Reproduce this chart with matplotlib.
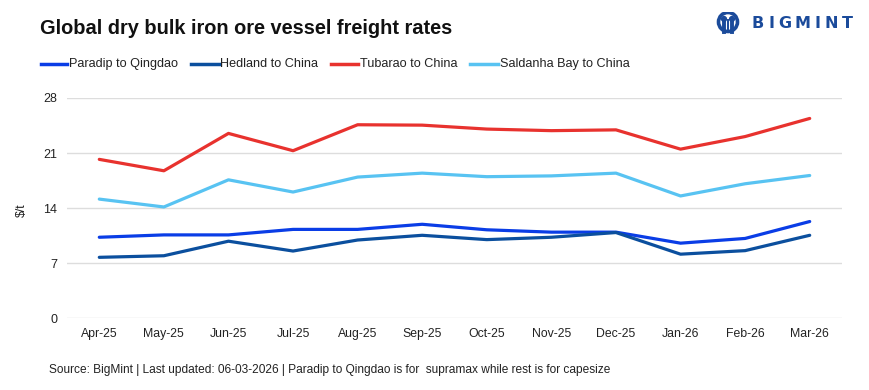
import matplotlib
matplotlib.use("Agg")
import matplotlib.pyplot as plt
from matplotlib.lines import Line2D
from matplotlib.patches import Circle

months = ["Apr-25", "May-25", "Jun-25", "Jul-25", "Aug-25", "Sep-25",
          "Oct-25", "Nov-25", "Dec-25", "Jan-26", "Feb-26", "Mar-26"]
paradip = [10.3, 10.6, 10.6, 11.3, 11.3, 11.95, 11.25, 10.95, 10.95, 9.55, 10.15, 12.3]
hedland = [7.75, 7.95, 9.8, 8.55, 9.95, 10.55, 10.0, 10.3, 10.9, 8.15, 8.6, 10.55]
tubarao = [20.2, 18.75, 23.5, 21.3, 24.6, 24.55, 24.05, 23.85, 23.95, 21.5, 23.1, 25.4]
saldanha = [15.15, 14.15, 17.6, 16.05, 17.95, 18.45, 18.0, 18.1, 18.45, 15.55, 17.1, 18.15]
series_names = ["Paradip to Qingdao", "Hedland to China", "Tubarao to China", "Saldanha Bay to China"]
yticks = [0, 7, 14, 21, 28]

colors = ["#0a3de6", "#0b4f9e", "#e8322e", "#58c3f2"]
FONT = ["Liberation Sans", "DejaVu Sans"]
W, H = 870, 390


def fx(px):
    return px / W


def fy(py):
    return 1 - py / H


fig = plt.figure(figsize=(8.7, 3.9), dpi=100)
ax = fig.add_axes([fx(67), fy(318.3), (842 - 67) / W, (318.3 - 98) / H])

x = list(range(len(months)))
for vals, c in zip([paradip, hedland, tubarao, saldanha], colors):
    ax.plot(x, vals, color=c, lw=2.3, solid_capstyle="round", clip_on=False, zorder=3)

ax.set_xlim(-0.5, 11.5)
ax.set_ylim(0, 28)
ax.set_yticks(yticks)
ax.set_yticklabels([str(v) for v in yticks], family=FONT, fontsize=9, color="#222222")
ax.set_xticks(x)
ax.set_xticklabels(months, family=FONT, fontsize=8.8, color="#222222")
ax.tick_params(length=0)
ax.tick_params(axis="x", pad=7)
ax.tick_params(axis="y", pad=7)
ax.grid(axis="y", color="#dddddd", lw=1)
ax.set_axisbelow(True)
for s in ax.spines.values():
    s.set_visible(False)

fig.text(fx(21.5), fy(210), "$/t", family=FONT, fontsize=8.8, color="#222222",
         rotation=90, ha="center", va="center")

fig.text(fx(40), fy(28), "Global dry bulk iron ore vessel freight rates",
         family=FONT, fontweight="bold", fontsize=14.4,
         color="#111111", va="center", ha="left")

# legend (manual placement)
leg_y = 63.7
leg_items = [(40.7, 66.7, 69), (190.7, 218.5, 220.5), (330.7, 358, 360), (470, 498, 500)]
for (x0, x1, tx), name, c in zip(leg_items, series_names, colors):
    fig.add_artist(Line2D([fx(x0), fx(x1)], [fy(leg_y), fy(leg_y)], color=c, lw=2.5,
                          transform=fig.transFigure))
    fig.text(fx(tx), fy(leg_y), name, family=FONT, fontsize=9.1, color="#222222",
             va="center", ha="left")

# logo
logo_c = "#1b4b9b"
letters = "BIGMINT"
widths = [12.0, 5.4, 13.0, 15.6, 5.4, 13.2, 10.6]
pos = 752
for ch, w in zip(letters, widths):
    fig.text(fx(pos), fy(23.5), ch, family=["DejaVu Sans"], fontweight="bold", fontsize=11.5,
             color=logo_c, va="center", ha="left")
    pos += w + 4.2
lax = fig.add_axes([fx(714), fy(34), 28 / W, 22 / H])
lax.set_xlim(0, 28); lax.set_ylim(0, 22); lax.axis("off")
lax.add_patch(Circle((14, 12), 9.5, fill=False, ec=logo_c, lw=2.6))
lax.add_patch(Circle((10, 15), 2.4, color=logo_c))
lax.add_patch(Circle((18, 15), 2.4, color=logo_c))
lax.plot([10, 10], [2, 12], color=logo_c, lw=2.8)
lax.plot([18, 18], [2, 12], color=logo_c, lw=2.8)
lax.plot([14, 14], [5, 14], color=logo_c, lw=1.4)

fig.text(fx(49.3), fy(370),
         "Source: BigMint | Last updated: 06-03-2026 | Paradip to Qingdao is for  supramax while rest is for capesize",
         family=FONT, fontsize=8.6, color="#222222", va="center", ha="left")

fig.savefig("out.png", dpi=100, facecolor="white")
